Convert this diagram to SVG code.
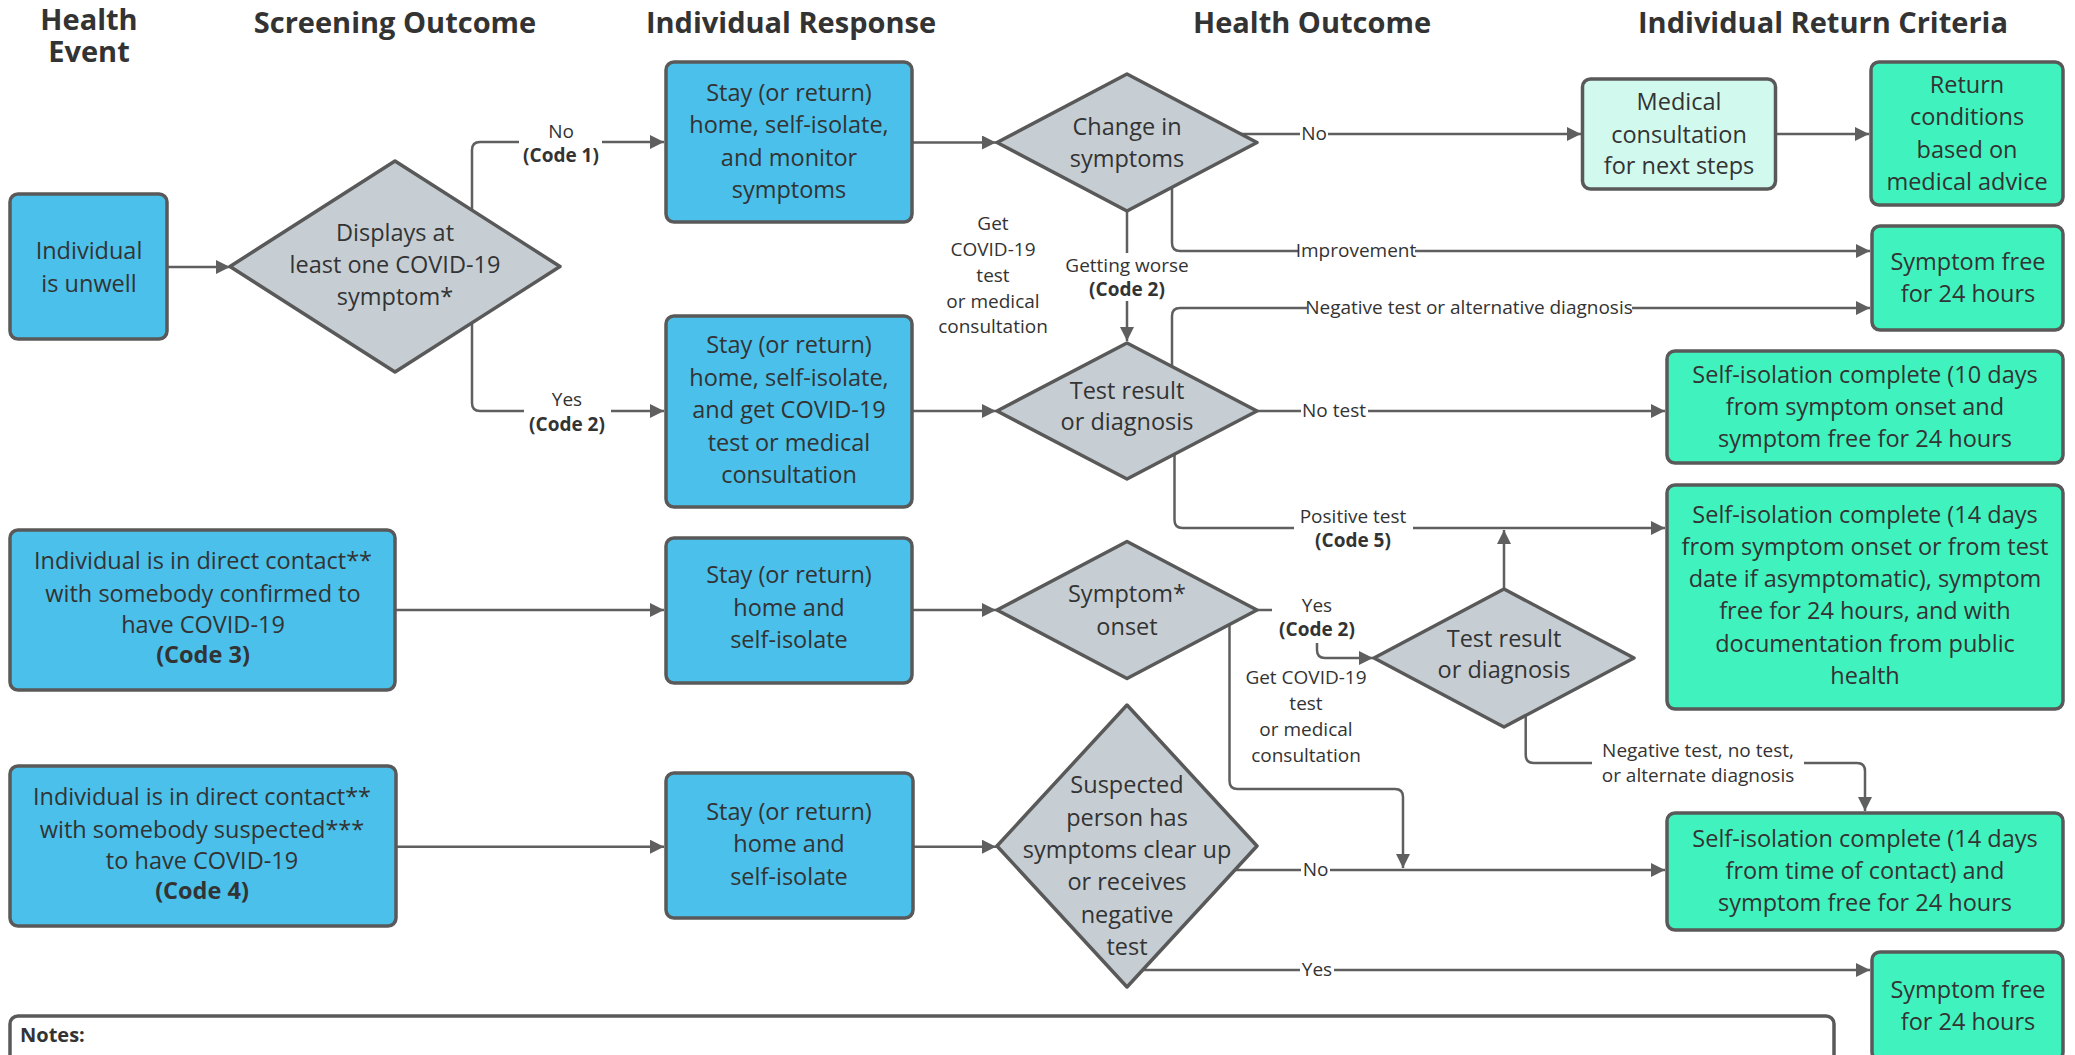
<svg xmlns="http://www.w3.org/2000/svg" width="2075" height="1055" viewBox="0 0 2075 1055">
<defs>
<marker id="ah" viewBox="0 0 14 14" refX="14" refY="7" markerWidth="14" markerHeight="14" markerUnits="userSpaceOnUse" orient="auto">
<path d="M0,0 L14,7 L0,14 Z" fill="#5f5f5f"/>
</marker>
<style>
.blue{fill:#4AC0EA;stroke:#595959;stroke-width:3.5}
.mint{fill:#40F2BD;stroke:#595959;stroke-width:3.5}
.pale{fill:#D2F9EE;stroke:#595959;stroke-width:3.5}
.dia{fill:#C6CED3;stroke:#595959;stroke-width:3.5;stroke-linejoin:round}
.t{font-family:"Open Sans",Lato,"Liberation Sans",sans-serif;font-size:23.5px;fill:#333;text-anchor:middle}
.h{font-family:"Open Sans",Lato,"Liberation Sans",sans-serif;font-size:29px;font-weight:bold;fill:#333;text-anchor:middle}
.l{font-family:"Open Sans",Lato,"Liberation Sans",sans-serif;font-size:19px;fill:#333;text-anchor:middle}
.b{font-weight:bold}
.c{fill:none;stroke:#5f5f5f;stroke-width:2.5;marker-end:url(#ah)}
.bg{fill:#fff}
</style>
</defs>
<rect width="2075" height="1055" fill="#fff"/>

<g id="headers">
<text class="h" x="89" y="30">Health</text>
<text class="h" x="89" y="62">Event</text>
<text class="h" x="395" y="33">Screening Outcome</text>
<text class="h" x="791" y="33">Individual Response</text>
<text class="h" x="1312" y="33">Health Outcome</text>
<text class="h" x="1823" y="33">Individual Return Criteria</text>
</g>

<g id="connectors">
<path class="c" d="M168,267 H230"/>
<path class="c" d="M472,210 V150 Q472,142 480,142 H664"/>
<path class="c" d="M472,323 V403 Q472,411 480,411 H664"/>
<path class="c" d="M912,142.5 H996"/>
<path class="c" d="M1241,134 H1581"/>
<path class="c" d="M1776,134 H1869"/>
<path class="c" d="M1172,187 V243 Q1172,251 1180,251 H1870"/>
<path class="c" d="M1127,211 V341"/>
<path class="c" d="M1172,366 V316 Q1172,308 1180,308 H1870"/>
<path class="c" d="M912,411 H996"/>
<path class="c" d="M1257,411 H1665"/>
<path class="c" d="M1174.5,454 V520 Q1174.5,528 1182.5,528 H1665"/>
<path class="c" d="M395,610 H664"/>
<path class="c" d="M912,610 H996"/>
<path class="c" d="M1257,610 H1309 Q1317,610 1317,618 V650 Q1317,658 1325,658 H1373"/>
<path class="c" d="M1504,589 V530"/>
<path class="c" d="M1229.5,624.5 V781 Q1229.5,789 1237.5,789 H1395 Q1403,789 1403,797 V868"/>
<path class="c" d="M1525.7,715.5 V755 Q1525.7,763 1533.7,763 H1857 Q1865,763 1865,771 V811"/>
<path class="c" d="M396,846.7 H664"/>
<path class="c" d="M913,846.7 H996"/>
<path class="c" d="M1235,870 H1665"/>
<path class="c" d="M1143,970 H1870"/>
</g>

<g id="connector-labels">
<rect class="bg" x="519" y="120" width="83" height="48"/>
<text class="l" x="561" y="138">No</text>
<text class="l b" x="561" y="162">(Code 1)</text>
<rect class="bg" x="524" y="390" width="87" height="47"/>
<text class="l" x="567" y="406">Yes</text>
<text class="l b" x="567" y="431">(Code 2)</text>
<rect class="bg" x="1300" y="124" width="28" height="20"/>
<text class="l" x="1314" y="140">No</text>
<rect class="bg" x="1298" y="242" width="117" height="18"/>
<text class="l" x="1356" y="257">Improvement</text>
<rect class="bg" x="1307" y="299" width="325" height="18"/>
<text class="l" x="1469" y="314">Negative test or alternative diagnosis</text>
<rect class="bg" x="1301" y="402" width="67" height="18"/>
<text class="l" x="1334" y="417">No test</text>
<rect class="bg" x="1294" y="505" width="119" height="46"/>
<text class="l" x="1353" y="523">Positive test</text>
<text class="l b" x="1353" y="547">(Code 5)</text>
<rect class="bg" x="1058" y="253" width="138" height="48"/>
<text class="l" x="1127" y="272">Getting worse</text>
<text class="l b" x="1127" y="296">(Code 2)</text>
<text class="l" x="993" y="230">Get</text>
<text class="l" x="993" y="256">COVID-19</text>
<text class="l" x="993" y="282">test</text>
<text class="l" x="993" y="308">or medical</text>
<text class="l" x="993" y="333">consultation</text>
<rect class="bg" x="1272" y="595" width="90" height="48"/>
<text class="l" x="1317" y="612">Yes</text>
<text class="l b" x="1317" y="636">(Code 2)</text>
<text class="l" x="1306" y="684">Get COVID-19</text>
<text class="l" x="1306" y="710">test</text>
<text class="l" x="1306" y="736">or medical</text>
<text class="l" x="1306" y="762">consultation</text>
<rect class="bg" x="1592" y="740" width="212" height="48"/>
<text class="l" x="1698" y="757">Negative test, no test,</text>
<text class="l" x="1698" y="782">or alternate diagnosis</text>
<rect class="bg" x="1301" y="861" width="29" height="18"/>
<text class="l" x="1315.5" y="876">No</text>
<rect class="bg" x="1300" y="961" width="34" height="18"/>
<text class="l" x="1317" y="976">Yes</text>
</g>

<g id="n-unwell">
<rect class="blue" x="10" y="194" width="157" height="145" rx="8"/>
<text class="t" x="89" y="259">Individual</text>
<text class="t" x="89" y="292">is unwell</text>
</g>

<g id="n-displays">
<polygon class="dia" points="395,161 560,266.5 395,372 230,266.5"/>
<text class="t" x="395" y="241">Displays at</text>
<text class="t" x="395" y="273">least one COVID-19</text>
<text class="t" x="395" y="305">symptom*</text>
</g>

<g id="n-stay-monitor">
<rect class="blue" x="666" y="62" width="246" height="160" rx="8"/>
<text class="t" x="789" y="101">Stay (or return)</text>
<text class="t" x="789" y="133">home, self-isolate,</text>
<text class="t" x="789" y="166">and monitor</text>
<text class="t" x="789" y="198">symptoms</text>
</g>

<g id="n-change">
<polygon class="dia" points="1127,74 1257,142.5 1127,211 997,142.5"/>
<text class="t" x="1127" y="135">Change in</text>
<text class="t" x="1127" y="167">symptoms</text>
</g>

<g id="n-medical">
<rect class="pale" x="1582.5" y="79" width="193" height="110" rx="8"/>
<text class="t" x="1679" y="110">Medical</text>
<text class="t" x="1679" y="143">consultation</text>
<text class="t" x="1679" y="174">for next steps</text>
</g>

<g id="n-return-conditions">
<rect class="mint" x="1871" y="62" width="192" height="143" rx="8"/>
<text class="t" x="1967" y="93">Return</text>
<text class="t" x="1967" y="125">conditions</text>
<text class="t" x="1967" y="158">based on</text>
<text class="t" x="1967" y="190">medical advice</text>
</g>

<g id="n-symptom-free-1">
<rect class="mint" x="1872" y="226" width="191" height="104" rx="8"/>
<text class="t" x="1968" y="270">Symptom free</text>
<text class="t" x="1968" y="302">for 24 hours</text>
</g>

<g id="n-stay-test">
<rect class="blue" x="666" y="316" width="246" height="191" rx="8"/>
<text class="t" x="789" y="353">Stay (or return)</text>
<text class="t" x="789" y="386">home, self-isolate,</text>
<text class="t" x="789" y="418">and get COVID-19</text>
<text class="t" x="789" y="451">test or medical</text>
<text class="t" x="789" y="483">consultation</text>
</g>

<g id="n-test-result-1">
<polygon class="dia" points="1127,343 1257,411 1127,479 997,411"/>
<text class="t" x="1127" y="399">Test result</text>
<text class="t" x="1127" y="430">or diagnosis</text>
</g>

<g id="n-isolation-10">
<rect class="mint" x="1667" y="351" width="396" height="112" rx="8"/>
<text class="t" x="1865" y="383">Self-isolation complete (10 days</text>
<text class="t" x="1865" y="415">from symptom onset and</text>
<text class="t" x="1865" y="447">symptom free for 24 hours</text>
</g>

<g id="n-contact-confirmed">
<rect class="blue" x="10" y="530" width="385" height="160" rx="8"/>
<text class="t" x="203" y="569">Individual is in direct contact**</text>
<text class="t" x="203" y="602">with somebody confirmed to</text>
<text class="t" x="203" y="633">have COVID-19</text>
<text class="t b" x="203" y="663">(Code 3)</text>
</g>

<g id="n-stay-isolate-1">
<rect class="blue" x="666" y="538" width="246" height="145" rx="8"/>
<text class="t" x="789" y="583">Stay (or return)</text>
<text class="t" x="789" y="616">home and</text>
<text class="t" x="789" y="648">self-isolate</text>
</g>

<g id="n-symptom-onset">
<polygon class="dia" points="1127,541.5 1257,610 1127,678.5 997,610"/>
<text class="t" x="1127" y="602">Symptom*</text>
<text class="t" x="1127" y="635">onset</text>
</g>

<g id="n-isolation-14-onset">
<rect class="mint" x="1667" y="485" width="396" height="224" rx="8"/>
<text class="t" x="1865" y="523">Self-isolation complete (14 days</text>
<text class="t" x="1865" y="555">from symptom onset or from test</text>
<text class="t" x="1865" y="587">date if asymptomatic), symptom</text>
<text class="t" x="1865" y="619">free for 24 hours, and with</text>
<text class="t" x="1865" y="652">documentation from public</text>
<text class="t" x="1865" y="684">health</text>
</g>

<g id="n-test-result-2">
<polygon class="dia" points="1504,589 1634,658 1504,727 1374,658"/>
<text class="t" x="1504" y="647">Test result</text>
<text class="t" x="1504" y="678">or diagnosis</text>
</g>

<g id="n-contact-suspected">
<rect class="blue" x="10" y="766" width="386" height="160" rx="8"/>
<text class="t" x="202" y="805">Individual is in direct contact**</text>
<text class="t" x="202" y="838">with somebody suspected***</text>
<text class="t" x="202" y="869">to have COVID-19</text>
<text class="t b" x="202" y="899">(Code 4)</text>
</g>

<g id="n-stay-isolate-2">
<rect class="blue" x="666" y="773" width="247" height="145" rx="8"/>
<text class="t" x="789" y="820">Stay (or return)</text>
<text class="t" x="789" y="852">home and</text>
<text class="t" x="789" y="885">self-isolate</text>
</g>

<g id="n-suspected">
<polygon class="dia" points="1127,705 1257,846 1127,987 997,846"/>
<text class="t" x="1127" y="793">Suspected</text>
<text class="t" x="1127" y="826">person has</text>
<text class="t" x="1127" y="858">symptoms clear up</text>
<text class="t" x="1127" y="890">or receives</text>
<text class="t" x="1127" y="923">negative</text>
<text class="t" x="1127" y="955">test</text>
</g>

<g id="n-isolation-14-contact">
<rect class="mint" x="1667" y="813" width="396" height="117" rx="8"/>
<text class="t" x="1865" y="847">Self-isolation complete (14 days</text>
<text class="t" x="1865" y="879">from time of contact) and</text>
<text class="t" x="1865" y="911">symptom free for 24 hours</text>
</g>

<g id="n-symptom-free-2">
<rect class="mint" x="1872" y="952" width="191" height="108" rx="8"/>
<text class="t" x="1968" y="998">Symptom free</text>
<text class="t" x="1968" y="1030">for 24 hours</text>
</g>

<g id="n-notes">
<rect x="10" y="1016" width="1824" height="60" rx="8" fill="#fff" stroke="#595959" stroke-width="3.5"/>
<text class="l b" x="20" y="1042" style="text-anchor:start;font-size:20px">Notes:</text>
</g>
</svg>
